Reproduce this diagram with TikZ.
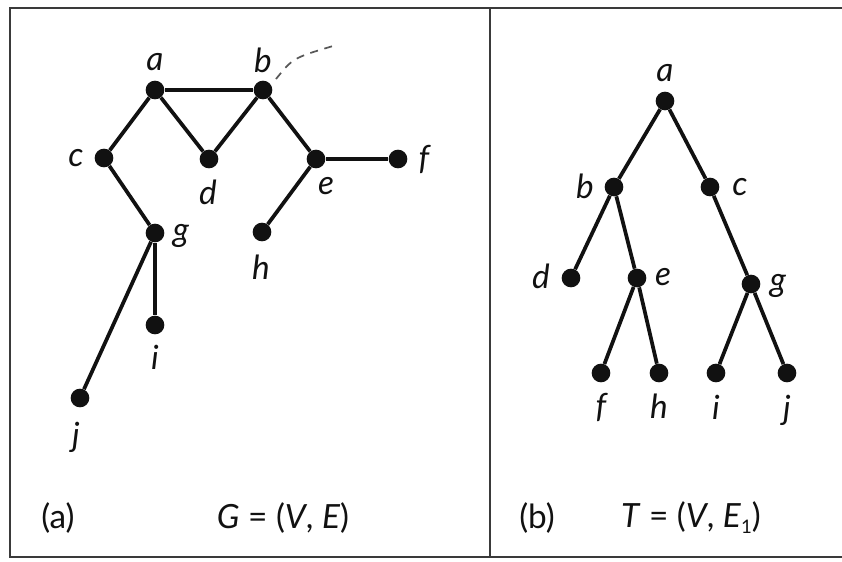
\documentclass[tikz,border=0pt]{standalone}
\usepackage{fontspec}
\setmainfont{Lato}
\usepackage{xcolor}
\usepackage{tikz}
\definecolor{GInk}{HTML}{111111}
\definecolor{GFrame}{HTML}{3A3A3A}

\begin{document}
\begin{tikzpicture}[x=0.75pt,y=-0.75pt,
  vtx/.style={circle,fill=GInk,inner sep=0pt,minimum size=14pt},
  edg/.style={GInk,line width=2.8pt},
  lbl/.style={font=\fontsize{25}{29}\selectfont\itshape,inner sep=0pt,text=GInk},
  captxt/.style={font=\fontsize{25}{29}\selectfont,inner sep=0pt,text=GInk}]
\path[use as bounding box] (0,0) rectangle (842,561);
% frame
\draw[GFrame,line width=2.2pt] (842,8) -- (10,8) -- (10,557) -- (842,557);
\draw[GFrame,line width=2.2pt] (490,8) -- (490,557);
% (a) graph G
\node[vtx] (a) at (155,90) {};
\node[vtx] (b) at (263,90) {};
\node[vtx] (c) at (104,158) {};
\node[vtx] (d) at (209,159) {};
\node[vtx] (e) at (316,159) {};
\node[vtx] (f) at (398,159) {};
\node[vtx] (g) at (155,233) {};
\node[vtx] (h) at (262,232) {};
\node[vtx] (i) at (155,325) {};
\node[vtx] (j) at (80,398) {};
\draw[edg] (a) -- (b);
\draw[edg] (a) -- (c);
\draw[edg] (a) -- (d);
\draw[edg] (d) -- (b);
\draw[edg] (b) -- (e);
\draw[edg] (e) -- (f);
\draw[edg] (e) -- (h);
\draw[edg] (c) -- (g);
\draw[edg] (g) -- (i);
\draw[edg] (g) -- (j);
\node[lbl] (la) at (155,62) {a};
\node[lbl] (lb) at (263,60) {b};
\node[lbl] (lc) at (76,158) {c};
\node[lbl] (ld) at (208,192) {d};
\node[lbl] (le) at (326,186) {e};
\node[lbl] (lf) at (424,159) {f};
\node[lbl] (lg) at (181,236) {g};
\node[lbl] (lh) at (261,267) {h};
\node[lbl] (li) at (155,357) {i};
\node[lbl] (lj) at (76,437) {j};
\coordinate (bnote) at (333,46);
\draw[GInk!70,line width=1.3pt,dash pattern=on 6pt off 5pt] (276,79) .. controls (293,58) .. (bnote);
% (b) spanning tree T
\node[vtx] (ta) at (665,101) {};
\node[vtx] (tb) at (614,187) {};
\node[vtx] (tc) at (710,187) {};
\node[vtx] (td) at (571,278) {};
\node[vtx] (te) at (637,278) {};
\node[vtx] (tg) at (751,284) {};
\node[vtx] (tf) at (601,373) {};
\node[vtx] (th) at (659,373) {};
\node[vtx] (ti) at (716,373) {};
\node[vtx] (tj) at (787,373) {};
\draw[edg] (ta) -- (tb);
\draw[edg] (ta) -- (tc);
\draw[edg] (tb) -- (td);
\draw[edg] (tb) -- (te);
\draw[edg] (te) -- (tf);
\draw[edg] (te) -- (th);
\draw[edg] (tc) -- (tg);
\draw[edg] (tg) -- (ti);
\draw[edg] (tg) -- (tj);
\node[lbl] (tla) at (665,73) {a};
\node[lbl] (tlb) at (585,186) {b};
\node[lbl] (tlc) at (740,187) {c};
\node[lbl] (tld) at (541,276) {d};
\node[lbl] (tle) at (663,277) {e};
\node[lbl] (tlg) at (778,286) {g};
\node[lbl] (tlf) at (601,407) {f};
\node[lbl] (tlh) at (659,406) {h};
\node[lbl] (tli) at (716,407) {i};
\node[lbl] (tlj) at (787,410) {j};
% captions
\node[captxt] (capa) at (58,518) {(a)};
\node[captxt] (capg) at (283,518) {\textit{G} = (\textit{V}, \textit{E})};
\node[captxt] (capb) at (537,518) {(b)};
\node[captxt] (capt) at (691,518) {\textit{T} = (\textit{V}, \textit{E}\raisebox{-0.35ex}{\fontsize{14}{16}\selectfont 1})};
\end{tikzpicture}
\end{document}
